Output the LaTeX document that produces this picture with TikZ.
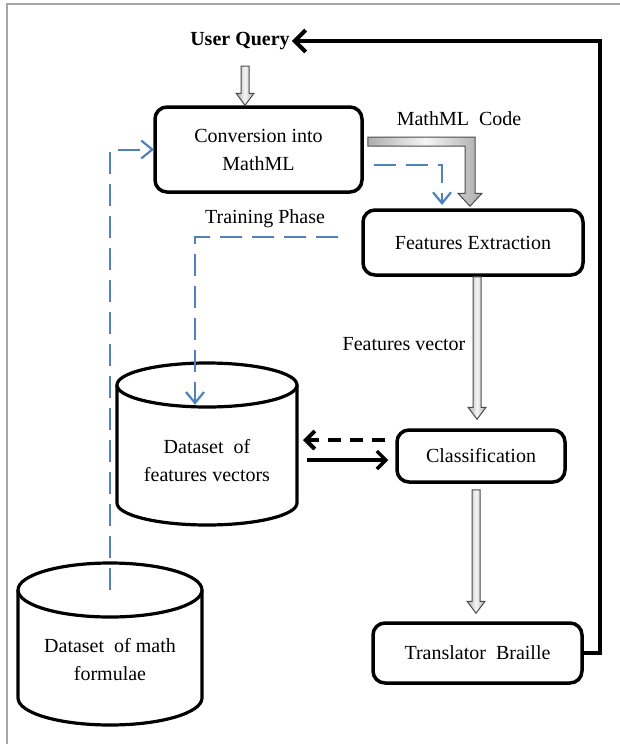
\documentclass[tikz,border=0pt]{standalone}
\usepackage{fontspec}
\setmainfont{Liberation Serif}
\usetikzlibrary{calc,arrows.meta}
\definecolor{ublue}{RGB}{79,129,189}
\newcommand\downblock[2]{%
  \draw[blockarr] ($(#1)+(-4,0)$) -- ($(#2)+(-4,-12)$) -- ($(#2)+(-9,-12)$) -- (#2)
    -- ($(#2)+(9,-12)$) -- ($(#2)+(4,-12)$) -- ($(#1)+(4,0)$) -- cycle;}
\begin{document}
\begin{tikzpicture}[x=1pt,y=-1pt,
  every node/.style={font=\fontsize{20}{28}\selectfont, align=center},
  procbox/.style={draw, line width=3.5pt, rounded corners=12pt, fill=white, inner sep=0pt},
  cylline/.style={draw, line width=3.2pt, fill=white},
  lbl/.style={inner sep=0pt},
  blockarr/.style={draw=black!70, line width=1pt, left color=gray!65, right color=gray!65, middle color=gray!8},
  bluedash/.style={draw=ublue, line width=2pt, dash pattern=on 22pt off 10pt},
  bluev/.style={draw=ublue, line width=2.2pt, solid, line join=miter},
  retline/.style={line width=4pt, line join=miter, -{Straight Barb[length=11pt,width=22pt]}},
  blackdash/.style={line width=4pt, dash pattern=on 13pt off 9pt, -{Straight Barb[length=9pt,width=18pt]}},
  blacksolid/.style={line width=3.5pt, -{Straight Barb[length=9pt,width=18pt]}},
  framestyle/.style={draw=gray!70, line width=1.5pt}
]
\useasboundingbox (0,0) rectangle (620,744);
\fill[white] (0,0) rectangle (620,744);
% frame
\draw[framestyle] (7,744) -- (7,4) -- (620,4);

% cylinders
\coordinate (dfvc) at (207,461);
\draw[cylline] ($(dfvc)+(-90,-76)$) -- ($(dfvc)+(-90,42)$)
  arc[start angle=180, end angle=0, x radius=90, y radius=22]
  -- ($(dfvc)+(90,-76)$);
\draw[cylline] ($(dfvc)+(0,-76)$) ellipse[x radius=90, y radius=22];
\node (dfv) at (dfvc) {Dataset\ \ of\\features vectors};

\coordinate (dmfc) at (110,660);
\draw[cylline] ($(dmfc)+(-92,-70)$) -- ($(dmfc)+(-92,38)$)
  arc[start angle=180, end angle=0, x radius=92, y radius=27]
  -- ($(dmfc)+(92,-70)$);
\draw[cylline] ($(dmfc)+(0,-70)$) ellipse[x radius=92, y radius=27];
\node (dmf) at (dmfc) {Dataset\ \ of math\\formulae};

% boxes and labels
\node[font=\bfseries\fontsize{20}{28}\selectfont, inner sep=2pt] (uq) at (240,41) {User Query};
\node[procbox, minimum width=207, minimum height=85] (conv) at (258.5,149.5) {Conversion into\\MathML};
\node[procbox, minimum width=220, minimum height=65] (fe) at (473,242.5) {Features Extraction};
\node[procbox, minimum width=168, minimum height=52] (cls) at (481,456) {Classification};
\node[procbox, minimum width=209, minimum height=60] (tb) at (477.5,653) {Translator\ \ Braille};
\node[lbl] (mc) at (459,119) {MathML\ \ Code};
\node[lbl] (tpl) at (265,219) {Training Phase};
\node[lbl] (fv) at (404,344) {Features vector};

% block arrows
\coordinate (a1s) at ($(uq)+(5,25)$);
\coordinate (a1e) at (a1s |- conv.north);
\downblock{a1s}{a1e}
\coordinate (a2s) at ($(fe.south)+(4,0)$);
\coordinate (a2t) at (a2s |- cls.north);
\coordinate (a2e) at ($(a2t)+(0,-9)$);
\downblock{a2s}{a2e}
\coordinate (a3s) at ($(cls.south)+(-5,6)$);
\coordinate (a3t) at (a3s |- tb.north);
\coordinate (a3e) at ($(a3t)+(0,-8)$);
\downblock{a3s}{a3e}
% L-shaped block arrow (MathML Code)
\coordinate (lm) at ($(conv.east)+(4,-8)$);
\coordinate (lt) at ($(fe.north)+(-3,-2)$);
\coordinate (lc) at (lt |- lm);
\draw[blockarr] ($(lm)+(0,-4.5)$) -- ($(lc)+(5,-4.5)$) -- ($(lt)+(5,-13)$) -- ($(lt)+(12,-13)$)
  -- (lt) -- ($(lt)+(-12,-13)$) -- ($(lt)+(-5,-13)$) -- ($(lc)+(-5,4.5)$) -- ($(lm)+(0,4.5)$) -- cycle;

% blue dashed connectors
\coordinate (mtop) at ($(dmfc)+(0,-70)$);
\coordinate (cw) at ($(conv.west)+(-1,0)$);
\draw[bluedash, shorten >=2pt] (mtop) |- (cw);
\draw[bluev] ($(cw)+(-11,-9)$) -- (cw) -- ($(cw)+(-11,9)$);
\coordinate (bs) at ($(conv.east)+(10,15.5)$);
\coordinate (be) at ($(fe.north)+(-31,-5)$);
\draw[bluedash, shorten >=2pt] (bs) -| (be);
\draw[bluev] ($(be)+(-9,-11)$) -- (be) -- ($(be)+(9,-11)$);
\coordinate (tps) at ($(fe.west)+(-23,-5.5)$);
\coordinate (tpe) at ($(dfvc)+(-12,-58)$);
\draw[bluedash, shorten >=2pt] (tps) -| (tpe);
\draw[bluev] ($(tpe)+(-9,-11)$) -- (tpe) -- ($(tpe)+(9,-11)$);

% classification <-> dataset
\coordinate (d1s) at ($(cls.west)+(-10,-16)$);
\coordinate (d1e) at ($(dfvc)+(96,-21)$);
\draw[blackdash] (d1s) -- (d1e);
\coordinate (d2s) at ($(dfvc)+(100,-1)$);
\coordinate (d2e) at ($(cls.west)+(-7,4)$);
\draw[blacksolid] (d2s) -- (d2e);

% return line
\draw[retline] (tb.east) -- ++(16,0) |- (uq.east);
\end{tikzpicture}
\end{document}
